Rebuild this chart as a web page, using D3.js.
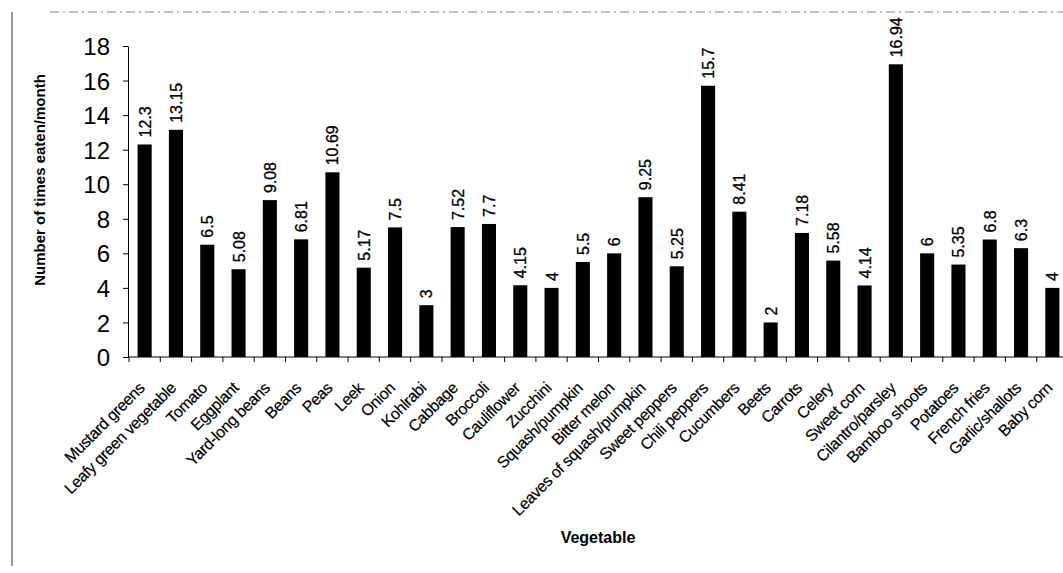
<!DOCTYPE html>
<html>
<head>
<meta charset="utf-8">
<script src="https://cdn.jsdelivr.net/npm/d3@7"></script>
<style>
  body { margin: 0; background: #fff; }
  text { font-family: Arial, "Liberation Sans", sans-serif; fill: #000; }
</style>
</head>
<body>
<div id="chart"></div>
<script>
// data
let vegetables = [
  "Mustard greens", "Leafy green vegetable", "Tomato", "Eggplant", "Yard-long beans",
  "Beans", "Peas", "Leek", "Onion", "Kohlrabi", "Cabbage", "Broccoli", "Cauliflower",
  "Zucchini", "Squash/pumpkin", "Bitter melon", "Leaves of squash/pumpkin",
  "Sweet peppers", "Chili peppers", "Cucumbers", "Beets", "Carrots", "Celery",
  "Sweet corn", "Cilantro/parsley", "Bamboo shoots", "Potatoes", "French fries",
  "Garlic/shallots", "Baby corn"
];
let timesPerMonth = [
  12.3, 13.15, 6.5, 5.08, 9.08, 6.81, 10.69, 5.17, 7.5, 3, 7.52, 7.7, 4.15, 4, 5.5,
  6, 9.25, 5.25, 15.7, 8.41, 2, 7.18, 5.58, 4.14, 16.94, 6, 5.35, 6.8, 6.3, 4
];
let yTicks = [0, 2, 4, 6, 8, 10, 12, 14, 16, 18];

let width = 1063;
let height = 573;

let svg = d3
  .select("#chart")
  .append("svg")
  .attr("width", width)
  .attr("height", height);

let x = d3
  .scaleBand()
  .domain(vegetables)
  .range([129, 1068])
  .paddingInner(0.55)
  .paddingOuter(0.275);

let y = d3.scaleLinear().domain([0, 18]).range([357, 46]);

// scan edges: left border and the faint line on top
svg
  .append("line")
  .attr("x1", 12)
  .attr("x2", 12)
  .attr("y1", 12)
  .attr("y2", 566)
  .attr("stroke", "#333")
  .attr("stroke-width", 1);
svg
  .append("line")
  .attr("x1", 50)
  .attr("x2", 1063)
  .attr("y1", 12)
  .attr("y2", 12)
  .attr("stroke", "#aaa")
  .attr("stroke-width", 1.5)
  .attr("stroke-dasharray", "9 4 2 4");

// bars
svg
  .selectAll(".bar")
  .data(vegetables)
  .enter()
  .append("rect")
  .attr("class", "bar")
  .attr("x", d => x(d))
  .attr("width", x.bandwidth())
  .attr("y", (d, i) => y(timesPerMonth[i]))
  .attr("height", (d, i) => y(0) - y(timesPerMonth[i]))
  .attr("fill", "#000");

// value labels on top of bars
svg
  .selectAll(".val")
  .data(vegetables)
  .enter()
  .append("text")
  .attr("class", "val")
  .attr("transform", (d, i) =>
    "translate(" + (x(d) + x.bandwidth() / 2 + 6) + "," + (y(timesPerMonth[i]) - 7) + ") rotate(-90)")
  .attr("font-size", 16)
  .attr("stroke", "#000")
  .attr("stroke-width", 0.3)
  .text((d, i) => timesPerMonth[i]);

// y axis
let yAxis = d3.axisLeft(y).tickValues(yTicks).tickSize(5).tickSizeOuter(0);
let yG = svg.append("g").attr("transform", "translate(128,0)").call(yAxis);
yG.selectAll("path, line").attr("stroke", "#000");
yG.selectAll("text")
  .attr("font-size", 24)
  .attr("x", -18)
  .attr("dy", "0.36em")
  .style("font-family", "Arial, 'Liberation Sans', sans-serif");

// x axis line and ticks between categories
svg
  .append("line")
  .attr("x1", 128)
  .attr("x2", 1063)
  .attr("y1", y(0))
  .attr("y2", y(0))
  .attr("stroke", "#000");
svg
  .selectAll(".xtick")
  .data(vegetables)
  .enter()
  .append("line")
  .attr("class", "xtick")
  .attr("x1", d => x(d) - x.step() * 0.275)
  .attr("x2", d => x(d) - x.step() * 0.275)
  .attr("y1", y(0))
  .attr("y2", y(0) + 5)
  .attr("stroke", "#000");

// category labels
svg
  .selectAll(".cat")
  .data(vegetables)
  .enter()
  .append("text")
  .attr("class", "cat")
  .attr("transform", d =>
    "translate(" + (x(d) + x.bandwidth() / 2 + 1) + "," + (y(0) + 32) + ") rotate(-45)")
  .attr("text-anchor", "end")
  .attr("font-size", 16)
  .attr("letter-spacing", -0.4)
  .attr("stroke", "#000")
  .attr("stroke-width", 0.2)
  .text(d => d);

// axis titles
svg
  .append("text")
  .attr("transform", "translate(45,180) rotate(-90)")
  .attr("text-anchor", "middle")
  .attr("font-size", 15)
  .attr("font-weight", "bold")
  .text("Number of times eaten/month");

svg
  .append("text")
  .attr("x", 598)
  .attr("y", 543)
  .attr("text-anchor", "middle")
  .attr("font-size", 16)
  .attr("font-weight", "bold")
  .text("Vegetable");
</script>
</body>
</html>
